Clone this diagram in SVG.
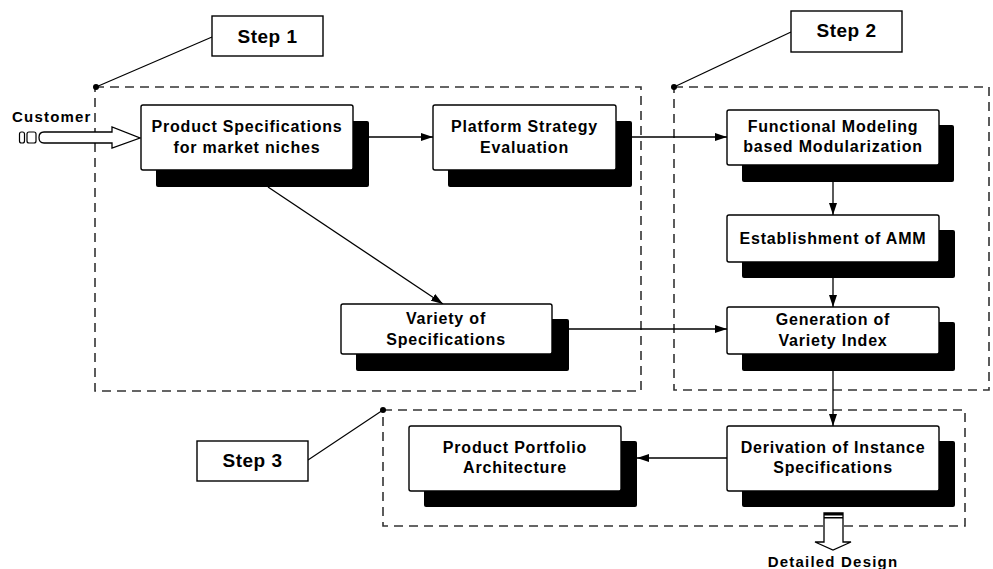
<svg xmlns="http://www.w3.org/2000/svg" width="993" height="569" viewBox="0 0 993 569">
<style>
.t{font-family:"Liberation Sans",Arial,sans-serif;font-weight:bold;font-size:16px;letter-spacing:0.8px;fill:#000;text-anchor:middle}
.st{font-family:"Liberation Sans",Arial,sans-serif;font-weight:bold;font-size:19px;letter-spacing:0.5px;fill:#000;text-anchor:middle}
.lab{font-family:"Liberation Sans",Arial,sans-serif;font-weight:bold;font-size:15px;letter-spacing:1.2px;fill:#000}
.box{fill:#fff;stroke:#000;stroke-width:1.4}
.sh{fill:#000}
.dash{fill:none;stroke:#333;stroke-width:1.6;stroke-dasharray:9 6}
.c{fill:none;stroke:#000;stroke-width:1.3}
.lead{fill:none;stroke:#000;stroke-width:1.2}
</style>
<defs>
<marker id="ah" viewBox="0 0 12 8" refX="12" refY="4" markerWidth="12" markerHeight="8" markerUnits="userSpaceOnUse" orient="auto">
<path d="M0,0 L12,4 L0,8 Z" fill="#000"/>
</marker>
</defs>

<g id="step-groups">
<rect class="dash" x="95" y="87" width="546" height="304"/>
<rect class="dash" x="674" y="87" width="315" height="303"/>
<rect class="dash" x="383" y="410" width="582" height="116"/>
<circle cx="96" cy="87" r="3" fill="#000"/>
<circle cx="674" cy="87" r="3" fill="#000"/>
<circle cx="383" cy="410" r="3" fill="#000"/>
</g>

<g id="step1">
<line class="lead" x1="96" y1="87" x2="212" y2="37"/>
<rect class="box" x="212" y="16" width="111" height="40"/>
<text class="st" x="267.5" y="43">Step 1</text>
</g>
<g id="step2">
<line class="lead" x1="674" y1="87" x2="791" y2="32"/>
<rect class="box" x="791" y="11" width="111" height="41"/>
<text class="st" x="846.5" y="37">Step 2</text>
</g>
<g id="step3">
<line class="lead" x1="383" y1="410" x2="308" y2="460"/>
<rect class="box" x="197" y="441" width="111" height="40"/>
<text class="st" x="252.5" y="467">Step 3</text>
</g>

<g id="connectors">
<line class="c" x1="369" y1="137" x2="433" y2="137" marker-end="url(#ah)"/>
<line class="c" x1="632" y1="137" x2="727" y2="137" marker-end="url(#ah)"/>
<line class="c" x1="268" y1="187" x2="443" y2="304" marker-end="url(#ah)"/>
<line class="c" x1="833" y1="182" x2="833" y2="215" marker-end="url(#ah)"/>
<line class="c" x1="833" y1="262" x2="833" y2="307" marker-end="url(#ah)"/>
<line class="c" x1="569" y1="329" x2="727" y2="329" marker-end="url(#ah)"/>
<line class="c" x1="833" y1="371" x2="833" y2="426" marker-end="url(#ah)"/>
<line class="c" x1="727" y1="458" x2="637" y2="458" marker-end="url(#ah)"/>
</g>

<g id="customer">
<text class="lab" x="12" y="122">Customer</text>
<rect x="19.5" y="132" width="5" height="11" rx="2" fill="#fff" stroke="#000" stroke-width="1.2"/>
<rect x="27" y="132" width="9" height="11" rx="2" fill="#fff" stroke="#000" stroke-width="1.2"/>
<path d="M44,132 H112 V127 L140,138 L112,148 V143 H44 Q39,143 39,137.5 Q39,132 44,132 Z" fill="#fff" stroke="#000" stroke-width="1.3"/>
</g>

<g id="product-specs">
<rect class="sh" x="156" y="121" width="213" height="66" rx="2"/>
<rect class="box" x="141" y="105" width="212" height="65" rx="2"/>
<text class="t" x="247" y="132">Product Specifications</text>
<text class="t" x="247" y="153">for market niches</text>
</g>

<g id="platform-strategy">
<rect class="sh" x="448" y="121" width="184" height="66" rx="2"/>
<rect class="box" x="433" y="105" width="183" height="65" rx="2"/>
<text class="t" x="524.5" y="132">Platform Strategy</text>
<text class="t" x="524.5" y="153">Evaluation</text>
</g>

<g id="functional-modeling">
<rect class="sh" x="742" y="125" width="212" height="57" rx="2"/>
<rect class="box" x="727" y="110" width="212" height="55" rx="2"/>
<text class="t" x="833" y="132">Functional Modeling</text>
<text class="t" x="833" y="152">based Modularization</text>
</g>

<g id="amm">
<rect class="sh" x="742" y="230" width="213" height="48" rx="2"/>
<rect class="box" x="727" y="215" width="212" height="47" rx="2"/>
<text class="t" x="833" y="244">Establishment of AMM</text>
</g>

<g id="variety-index">
<rect class="sh" x="742" y="322" width="213" height="49" rx="2"/>
<rect class="box" x="727" y="307" width="212" height="47" rx="2"/>
<text class="t" x="833" y="325">Generation of</text>
<text class="t" x="833" y="346">Variety Index</text>
</g>

<g id="variety-specs">
<rect class="sh" x="356" y="319" width="213" height="52" rx="2"/>
<rect class="box" x="341" y="304" width="211" height="50" rx="2"/>
<text class="t" x="446" y="324">Variety of</text>
<text class="t" x="446" y="345">Specifications</text>
</g>

<g id="derivation">
<rect class="sh" x="742" y="441" width="213" height="66" rx="2"/>
<rect class="box" x="727" y="426" width="212" height="65" rx="2"/>
<text class="t" x="833" y="453">Derivation of Instance</text>
<text class="t" x="833" y="473">Specifications</text>
</g>

<g id="portfolio">
<rect class="sh" x="424" y="441" width="213" height="66" rx="2"/>
<rect class="box" x="409" y="426" width="212" height="65" rx="2"/>
<text class="t" x="515" y="453">Product Portfolio</text>
<text class="t" x="515" y="473">Architecture</text>
</g>

<g id="detailed-design">
<path d="M824,513 H843 V542 H851 L833,550 L815,542 H824 Z" fill="#fff" stroke="#000" stroke-width="1.3"/>
<rect x="824" y="513" width="19" height="2.5" fill="#000"/>
<rect x="824" y="517" width="19" height="1.5" fill="#000"/>
<text class="lab" x="833" y="567" text-anchor="middle">Detailed Design</text>
</g>
</svg>
